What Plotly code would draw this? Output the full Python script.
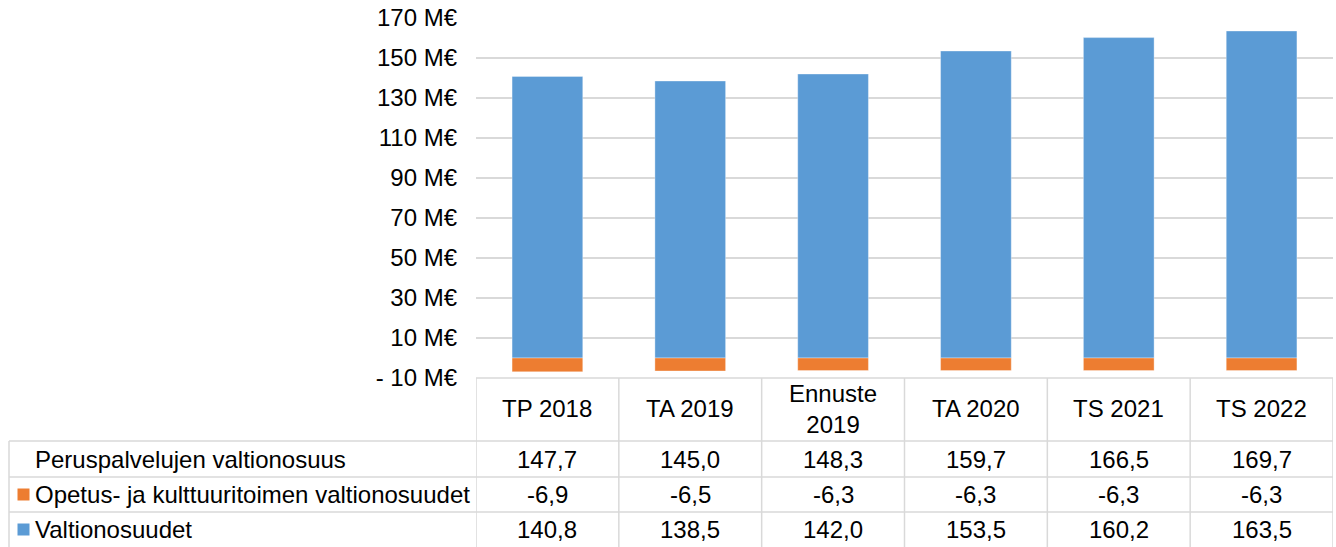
import plotly.graph_objects as go

# ---------------- data ----------------
categories = ["TP 2018", "TA 2019", "Ennuste 2019", "TA 2020", "TS 2021", "TS 2022"]
header_labels = ["TP 2018", "TA 2019", "Ennuste<br>2019", "TA 2020", "TS 2021", "TS 2022"]
peruspalvelut = [147.7, 145.0, 148.3, 159.7, 166.5, 169.7]
opetus = [-6.9, -6.5, -6.3, -6.3, -6.3, -6.3]
valtionosuudet = [140.8, 138.5, 142.0, 153.5, 160.2, 163.5]
series_names = ["Peruspalvelujen valtionosuus",
                "Opetus- ja kulttuuritoimen valtionosuudet",
                "Valtionosuudet"]
y_tickvals = [-10, 10, 30, 50, 70, 90, 110, 130, 150, 170]
y_ticktext = ["- 10 M€", "10 M€", "30 M€", "50 M€", "70 M€", "90 M€",
              "110 M€", "130 M€", "150 M€", "170 M€"]

# ---------------- layout constants ----------------
W, H = 1336, 547
ML, MR, MT, MB = 476, 3, 18, 169
PW = W - ML - MR
PH = H - MT - MB
BLUE = "#5B9BD5"
ORANGE = "#ED7D31"
GRID = "#D9D9D9"
FONT = "Liberation Sans, Arial, sans-serif"
FS = 24


def px(x):
    return (x - ML) / PW


def py(y):
    return (H - MB - y) / PH


row_bounds = [378, 441, 477, 512, 548]
header_center = 409
row_centers = [459, 494.5, 529.5]
table_left = 9
label_left = 33

fig = go.Figure()
fig.add_trace(go.Bar(x=categories, y=valtionosuudet, name=series_names[2],
                     marker=dict(color=BLUE, line=dict(width=1, color="rgba(255,255,255,0.35)"))))
fig.add_trace(go.Bar(x=categories, y=opetus, name=series_names[1],
                     marker=dict(color=ORANGE, line=dict(width=1, color="rgba(255,255,255,0.35)"))))

shapes = []
line = dict(color=GRID, width=1.5)
# top border of the category table (bottom of plot area)
shapes.append(dict(type="line", xref="paper", yref="paper", x0=0, x1=1,
                   y0=py(row_bounds[0]), y1=py(row_bounds[0]), line=line))
# vertical column lines
for i in range(len(categories) + 1):
    shapes.append(dict(type="line", xref="x", yref="paper", x0=i - 0.5, x1=i - 0.5,
                       y0=py(row_bounds[0]), y1=py(row_bounds[-1]), line=line, layer="above"))
# left border of label column
shapes.append(dict(type="line", xref="paper", yref="paper", x0=px(table_left), x1=px(table_left),
                   y0=py(row_bounds[1]), y1=py(row_bounds[-1]), line=line))
# horizontal row lines
for yb in row_bounds[1:]:
    shapes.append(dict(type="line", xref="paper", yref="paper", x0=px(table_left), x1=1,
                       y0=py(yb), y1=py(yb), line=line))
# legend keys
for yc, col in [(row_centers[1], ORANGE), (row_centers[2], BLUE)]:
    shapes.append(dict(type="rect", xref="paper", yref="paper", x0=px(17.5), x1=px(29.5),
                       y0=py(yc - 6), y1=py(yc + 6), fillcolor=col, line=dict(width=0)))

annotations = []
tf = dict(family=FONT, size=FS, color="#000000")
for i, lab in enumerate(header_labels):
    annotations.append(dict(x=i, y=py(header_center), xref="x", yref="paper", text=lab,
                            showarrow=False, xanchor="center", yanchor="middle", font=tf))
rows = [peruspalvelut, opetus, valtionosuudet]
for r, (vals, name) in enumerate(zip(rows, series_names)):
    annotations.append(dict(x=px(label_left), y=py(row_centers[r]), xref="paper", yref="paper",
                            text=name, showarrow=False, xanchor="left", yanchor="middle", font=tf))
    for i, v in enumerate(vals):
        annotations.append(dict(x=i, y=py(row_centers[r]), xref="x", yref="paper",
                                text=f"{v:.1f}".replace(".", ","), showarrow=False,
                                xanchor="center", yanchor="middle", font=tf))

fig.update_layout(
    width=W, height=H,
    margin=dict(l=ML, r=MR, t=MT, b=MB, pad=0),
    paper_bgcolor="white", plot_bgcolor="white",
    barmode="relative", bargap=0.505,
    showlegend=False,
    font=tf,
    xaxis=dict(type="category", range=[-0.5, len(categories) - 0.5], showticklabels=False,
               showgrid=False, zeroline=False, showline=False, fixedrange=True),
    yaxis=dict(range=[-10, 170], tickvals=y_tickvals, ticktext=y_ticktext,
               showgrid=True, gridcolor=GRID, gridwidth=1.5, zeroline=False, showline=False,
               ticks="", ticklabelstandoff=18, tickfont=tf, fixedrange=True),
    shapes=shapes,
    annotations=annotations,
)

fig.write_html("out.html",
               post_script="document.body.style.margin='0';document.body.style.overflow='hidden';",
               config={"displayModeBar": False})
